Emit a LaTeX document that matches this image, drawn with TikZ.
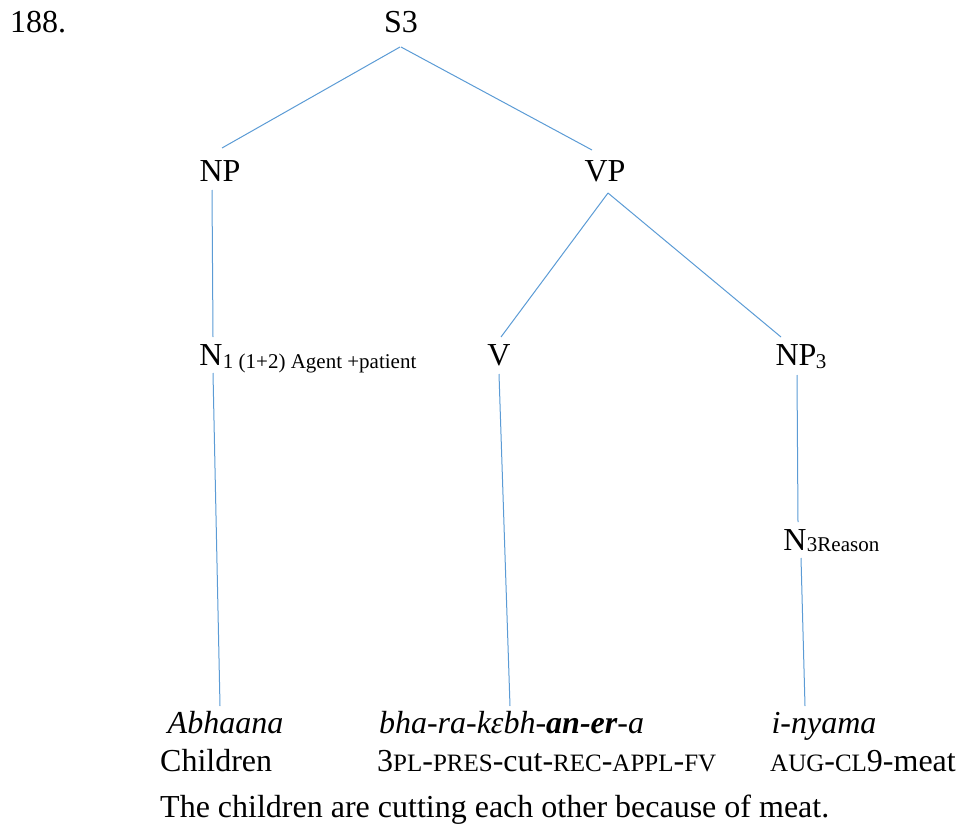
\documentclass[tikz,border=0pt]{standalone}
\usepackage{fontspec}
\setmainfont{Liberation Serif}
\newcommand{\bigtxt}{\fontsize{32}{38}\selectfont}
\newcommand{\subtxt}{\fontsize{21}{25}\selectfont}
\newcommand{\smc}[1]{{\fontsize{25}{28}\selectfont #1}}
\definecolor{treeblue}{RGB}{91,155,213}
\begin{document}
\begin{tikzpicture}[x=1pt,y=-1pt,
  lbl/.style={inner sep=0pt,anchor=base,font=\bigtxt},
  sub/.style={inner sep=0pt,anchor=base west,font=\subtxt},
  link/.style={draw=treeblue,line width=1pt}]
\useasboundingbox (0,0) rectangle (961,832);

% category labels
\node[lbl,anchor=base west] (num) at (10,33) {188.};
\node[lbl] (s3) at (401,33) {S3};
\node[lbl] (np) at (220,182) {NP};
\node[lbl] (vp) at (605,182) {VP};
\node[lbl] (n1) at (211,365) {N};
\node[sub] (n1sub) at ([shift={(0,3)}]n1.base east) {1 (1+2) Agent +patient};
\node[lbl] (v) at (499,365) {V};
\node[lbl] (np3) at (796,365) {NP};
\node[sub] (np3sub) at ([shift={(-1,3)}]np3.base east) {3};
\node[lbl] (n3) at (795,550) {N};
\node[sub] (n3sub) at ([shift={(0,1)}]n3.base east) {3Reason};

% words, glosses and translation
\node[lbl] (w1) at (225.5,733) {\itshape Abhaana};
\node[lbl] (w2) at (511.5,733) {\itshape bha-ra-k\char"025B bh-\textbf{an-er}-a};
\node[lbl] (w3) at (824,733) {\itshape i-nyama};
\node[lbl,anchor=base west] (g1) at (160,771) {Children};
\node[lbl,anchor=base west] (g2) at (377,771) {3\smc{PL}-\smc{PRES}-cut-\smc{REC}-\smc{APPL}-\smc{FV}};
\node[lbl,anchor=base west] (g3) at (770,771) {\smc{AUG}-\smc{CL}9-meat};
\node[lbl,anchor=base west] (tr) at (160,817) {The children are cutting each other because of meat.};

% branches
\draw[link] ([shift={(-1,14)}]s3.base) -- ([shift={(2,-34)}]np.base);
\draw[link] ([shift={(0,14)}]s3.base) -- ([shift={(-13,-32)}]vp.base);
\draw[link] ([shift={(-8,8)}]np.base) -- ([shift={(2,-28)}]n1.base);
\draw[link] ([shift={(3,11)}]vp.base) -- ([shift={(2,-28)}]v.base);
\draw[link] ([shift={(3,11)}]vp.base) -- ([shift={(-15,-28)}]np3.base);
\draw[link] ([shift={(2,8)}]n1.base) -- ([shift={(-5.5,-27)}]w1.base);
\draw[link] ([shift={(0,9)}]v.base) -- ([shift={(-1.5,-27)}]w2.base);
\draw[link] ([shift={(1,10)}]np3.base) -- ([shift={(3,-28)}]n3.base);
\draw[link] ([shift={(6,8)}]n3.base) -- ([shift={(-19,-27)}]w3.base);
\end{tikzpicture}
\end{document}
